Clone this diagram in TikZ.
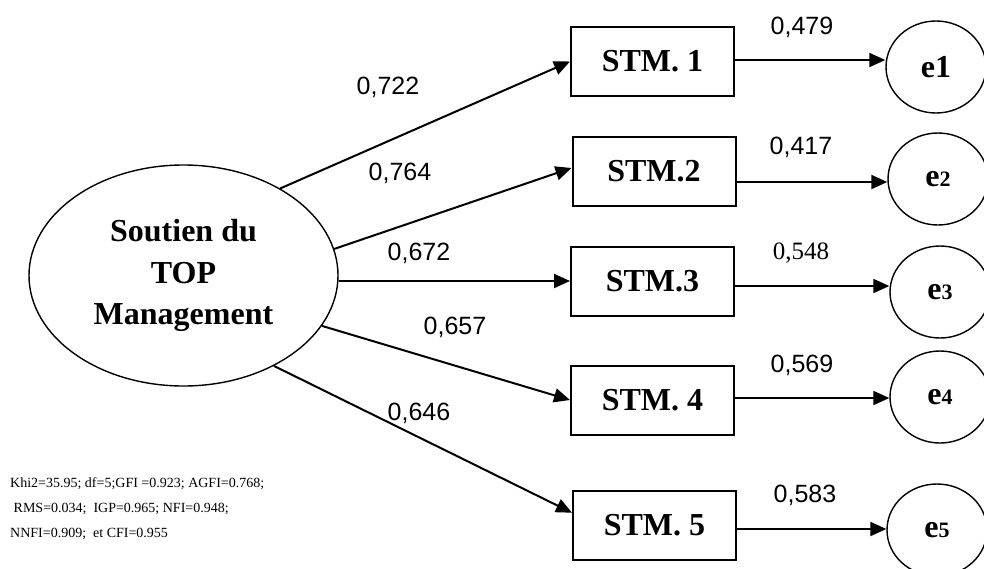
\documentclass[tikz,border=0pt]{standalone}
\usepackage{fontspec}
\setmainfont{Liberation Serif}
\newfontfamily\arialfont{Liberation Sans}
\usetikzlibrary{arrows.meta,shapes.geometric,calc}

\begin{document}
\begin{tikzpicture}[x=1pt,y=-1pt,
  item/.style={draw,line width=2pt,minimum width=163pt,minimum height=69pt,
    inner sep=0pt,font=\fontsize{32}{36}\selectfont\bfseries},
  err/.style={draw,ellipse,line width=1.4pt,minimum width=100pt,
    minimum height=92pt,inner sep=0pt,font=\fontsize{32}{36}\selectfont\bfseries},
  link/.style={line width=2pt,-{Triangle[length=16pt,width=14pt]}},
  coef/.style={font=\arialfont\fontsize{25}{30}\selectfont,inner sep=0pt},
  coefserif/.style={font=\fontsize{25}{30}\selectfont,inner sep=0pt},
  fit/.style={anchor=base west,inner sep=0pt,font=\fontsize{14}{17}\selectfont},
]
\useasboundingbox (0,0) rectangle (984,568);

% latent factor
\node[draw,ellipse,line width=1.4pt,minimum width=309pt,minimum height=221pt,
      inner sep=0pt,align=center,font=\fontsize{32}{41.5}\selectfont\bfseries]
      (sup) at (183.5,275.5) {Soutien du\\TOP\\Management};

% indicators
\node[item] (stm1) at (652.5,61.5) {STM. 1};
\node[item] (stm2) at (654,171) {STM.2};
\node[item] (stm3) at (652.5,281) {STM.3};
\node[item] (stm4) at (652.5,400) {STM. 4};
\node[item] (stm5) at (654.5,525.5) {STM. 5};

% error terms
\newcommand{\smalldigit}[1]{{\fontsize{22}{24}\selectfont #1}}
\node[err] (e1) at (936,67) {e1};
\node[err] (e2) at (938,179) {e\smalldigit{2}};
\node[err] (e3) at (940,292) {e\smalldigit{3}};
\node[err] (e4) at (940,397) {e\smalldigit{4}};
\node[err] (e5) at (937,530) {e\smalldigit{5}};

% loadings
\draw[link] (sup.42) -- (stm1.west);
\draw[link] (sup.10.7) -- ([yshift=3pt]stm2.west);
\draw[link] (stm3.west -| sup.east) -- (stm3.west);
\draw[link] (sup.-20) -- (stm4.west);
\draw[link] (sup.-45) -- ($(stm5.north west)!0.32!(stm5.south west)$);

% error paths
\draw[link] ([yshift=1.5pt]stm1.east) -- ([yshift=1.5pt]stm1.east -| e1.west);
\draw[link] ([yshift=-11pt]stm2.east) -- ([yshift=-11pt]stm2.east -| e2.west);
\draw[link] ([yshift=-5pt]stm3.east) -- ([yshift=-5pt]stm3.east -| e3.west);
\draw[link] ([yshift=2pt]stm4.east) -- ([yshift=2pt]stm4.east -| e4.west);
\draw[link] ([yshift=-3.5pt]stm5.east) -- ([yshift=-3.5pt]stm5.east -| e5.west);

% coefficients
\node[coef] (c1) at (388,87) {0,722};
\node[coef] (c2) at (400,173) {0,764};
\node[coef] (c3) at (419,253) {0,672};
\node[coef] (c4) at (455,327) {0,657};
\node[coef] (c5) at (419,413) {0,646};
\node[coef] (r1) at (802,27) {0,479};
\node[coef] (r2) at (801,147) {0,417};
\node[coefserif] (r3) at (801,253) {0,548};
\node[coef] (r4) at (802,365) {0,569};
\node[coef] (r5) at (805,495) {0,583};

% fit indices
\node[fit] (fit1) at (10,487) {Khi2=35.95; df=5;GFI =0.923; AGFI=0.768;};
\node[fit] (fit2) at (10,512) {\ RMS=0.034;\ \ IGP=0.965; NFI=0.948;};
\node[fit] (fit3) at (10,537) {NNFI=0.909;\ \ et CFI=0.955};
\end{tikzpicture}
\end{document}
